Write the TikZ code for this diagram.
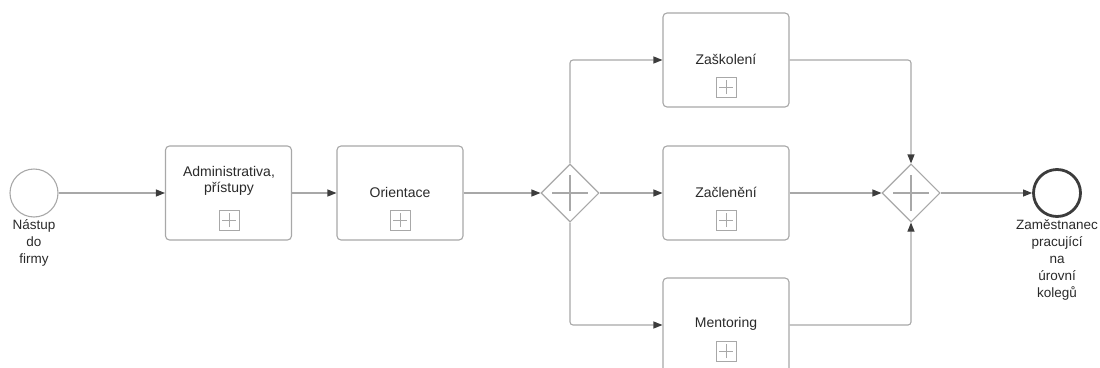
\documentclass[tikz,border=0pt]{standalone}
\usepackage{fontspec}
\setmainfont{Liberation Sans}
\usetikzlibrary{arrows.meta,shapes.geometric}
\definecolor{linec}{HTML}{A8A8A8}
\definecolor{tipc}{HTML}{3C3C3C}
\definecolor{txt}{HTML}{2A2A2A}
\begin{document}
\begin{tikzpicture}[x=1pt,y=-1pt,
  every node/.style={font=\fontsize{14}{16}\selectfont, text=txt},
  task/.style={draw=linec, line width=1.1pt, rounded corners=4pt, fill=white,
    minimum width=126pt, minimum height=94pt, inner sep=0pt},
  marker/.style={draw=linec, line width=0.9pt, minimum size=20pt, inner sep=0pt,
    path picture={
      \draw[linec, line width=0.9pt] ([xshift=-7pt]path picture bounding box.center) -- ([xshift=7pt]path picture bounding box.center);
      \draw[linec, line width=0.9pt] ([yshift=-7pt]path picture bounding box.center) -- ([yshift=7pt]path picture bounding box.center);}},
  gateway/.style={diamond, draw=linec, line width=1.1pt, fill=white, minimum width=58pt, minimum height=58pt, inner sep=0pt, aspect=1,
    path picture={
      \draw[linec, line width=1.1pt] ([xshift=-18pt]path picture bounding box.center) -- ([xshift=18pt]path picture bounding box.center);
      \draw[linec, line width=1.1pt] ([yshift=-18pt]path picture bounding box.center) -- ([yshift=18pt]path picture bounding box.center);}},
  evlabel/.style={align=center, inner sep=0pt, anchor=north, font=\fontsize{13.5}{17}\selectfont},
  flow/.style={draw=linec, line width=1.1pt, rounded corners=3pt, -{Triangle[length=9pt,width=7pt,color=tipc]}}
]
\useasboundingbox (0,0) rectangle (1100,367);
\clip (0,0) rectangle (1100,367);

% events
\node[circle, draw=linec, line width=1.1pt, minimum size=48pt, inner sep=0pt] (start) at (34,193) {};
\node[evlabel] (startL) at (34,219) {Nástup\\do\\firmy};
\node[circle, draw=tipc, line width=2.8pt, minimum size=47pt, inner sep=0pt] (end) at (1057,193) {};
\node[evlabel] (endL) at (1057,219) {Zaměstnanec\\pracující\\na\\úrovní\\kolegů};

% tasks
\node[task] (admin) at (228.5,193) {};
\node[align=center, inner sep=0pt] (adminT) at (229,181) {Administrativa,\\přístupy};
\node[marker] (adminM) at (229,220) {};

\node[task] (orient) at (400,193) {};
\node (orientT) at (400,192) {Orientace};
\node[marker] (orientM) at (400,220) {};

\node[task] (skol) at (726,60) {};
\node (skolT) at (726,59) {Zaškolení};
\node[marker] (skolM) at (726,87) {};

\node[task] (zaclen) at (726,193) {};
\node (zaclenT) at (726,192) {Začlenění};
\node[marker] (zaclenM) at (726,220) {};

\node[task] (mentor) at (726,325) {};
\node (mentorT) at (726,324) {Mentoring};
\node[marker] (mentorM) at (726,351) {};

% gateways
\node[gateway] (gw1) at (570,193) {};
\node[gateway] (gw2) at (911,193) {};

% flows
\draw[flow] (start) -- (admin);
\draw[flow] (admin) -- (orient);
\draw[flow] (orient) -- (gw1);
\draw[flow] (gw1) -- (zaclen);
\draw[flow] (gw1.north) |- (skol.west);
\draw[flow] (gw1.south) |- (mentor.west);
\draw[flow] (zaclen) -- (gw2);
\draw[flow] (skol.east) -| (gw2.north);
\draw[flow] (mentor.east) -| (gw2.south);
\draw[flow] (gw2) -- (end);
\end{tikzpicture}
\end{document}
